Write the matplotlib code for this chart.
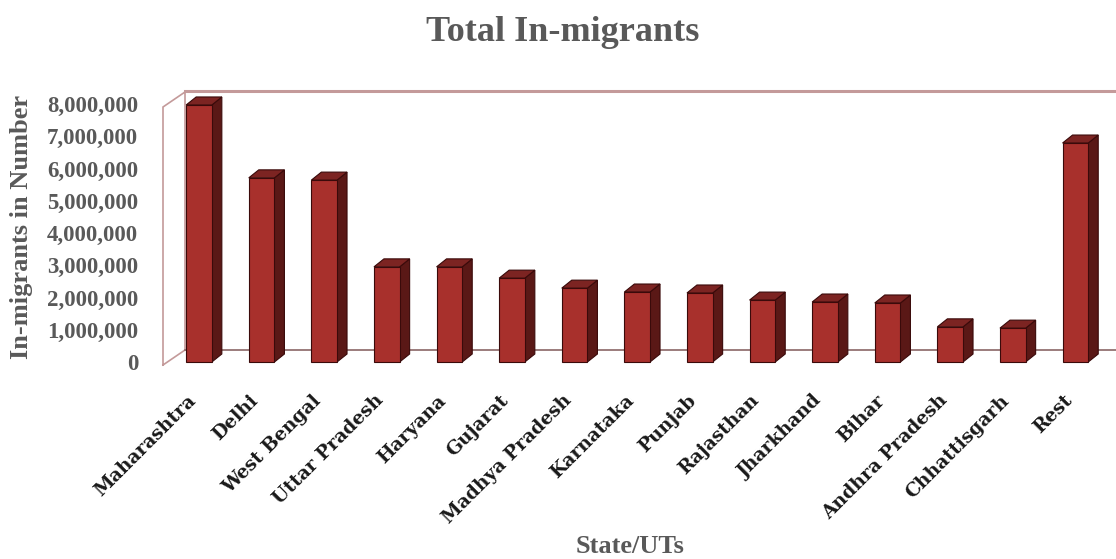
import matplotlib
matplotlib.use('Agg')
import matplotlib.pyplot as plt
from matplotlib.patches import Polygon
from matplotlib.transforms import ScaledTranslation
import numpy as np

# ---- data ----
states = ['Maharashtra', 'Delhi', 'West Bengal', 'Uttar Pradesh', 'Haryana',
          'Gujarat', 'Madhya Pradesh', 'Karnataka', 'Punjab', 'Rajasthan',
          'Jharkhand', 'Bihar', 'Andhra Pradesh', 'Chhattisgarh', 'Rest']
in_migrants = [7970000, 5710000, 5640000, 2950000, 2950000,
               2600000, 2290000, 2170000, 2140000, 1920000,
               1860000, 1830000, 1090000, 1050000, 6790000]
y_ticks = [0, 1000000, 2000000, 3000000, 4000000,
           5000000, 6000000, 7000000, 8000000]
title = 'Total In-migrants'
y_label = 'In-migrants in Number'
x_label = 'State/UTs'

# ---- styling ----
W, H = 1116, 559
fig = plt.figure(figsize=(W / 100, H / 100), dpi=100)
ax = fig.add_axes([163 / W, 1 - 370 / H, (W - 163) / W, 285 / H])

px_x = 62.6          # pixels per category
px_y = 32.25 / 1e6   # pixels per unit value
ax.set_xlim(-0.575, -0.575 + (W - 163) / px_x)
ax.set_ylim(-8 / px_y, 277 / px_y)

front_c = '#a8302c'
side_c = '#5a1816'
top_c = '#7c2422'
edge_c = '#3a0a0a'
wall_c = '#c49a9a'
floor_c = '#8a6666'

# walls (3D frame)
wdx = 22 / px_x
wdy = 15 / px_y
fx0 = -0.575
fy0 = -3 / px_y
fy1 = 255 / px_y
ax.plot([fx0, fx0, fx0 + wdx, fx0 + wdx, fx0],
        [fy0, fy1, fy1 + wdy, fy0 + wdy, fy0], color=wall_c, lw=1.2,
        solid_joinstyle='miter', clip_on=False, zorder=1)
xmax = ax.get_xlim()[1]
ax.plot([fx0 + wdx, xmax], [fy1 + wdy + 1 / px_y] * 2, color=wall_c, lw=2.2,
        clip_on=False, zorder=1)
ax.plot([fx0 + wdx, xmax], [fy0 + wdy] * 2, color=floor_c, lw=1.2,
        clip_on=False, zorder=1)

# bars with pseudo-3D faces
x = np.arange(len(states))
bw = 0.41
bdx = 10 / px_x
bdy = 8 / px_y
ax.bar(x, in_migrants, width=bw, color=front_c, edgecolor=edge_c,
       linewidth=0.8, zorder=3)
for xi, v in zip(x, in_migrants):
    r = xi + bw / 2
    l = xi - bw / 2
    side = Polygon([(r, 0), (r + bdx, bdy), (r + bdx, v + bdy), (r, v)],
                   closed=True, facecolor=side_c, edgecolor=edge_c,
                   linewidth=0.8, zorder=2)
    top = Polygon([(l, v), (l + bdx, v + bdy), (r + bdx, v + bdy), (r, v)],
                  closed=True, facecolor=top_c, edgecolor=edge_c,
                  linewidth=0.8, zorder=2)
    ax.add_patch(side)
    ax.add_patch(top)

for s in ax.spines.values():
    s.set_visible(False)

ax.set_yticks(y_ticks)
ax.set_yticklabels([f'{v:,}' for v in y_ticks], fontfamily='Liberation Serif',
                   fontweight='bold', fontsize=16.5, color='#595959')
ax.tick_params(axis='y', length=0, pad=18)

ax.set_xticks(x)
ax.set_xticklabels(states, rotation=45, ha='right', va='center',
                   rotation_mode='anchor', fontfamily='DejaVu Serif',
                   fontweight='bold', fontsize=13.5, color='#1a1a1a')
ax.tick_params(axis='x', length=0, pad=20)
off = ScaledTranslation(-6 / 100, 0, fig.dpi_scale_trans)
for lbl in ax.get_xticklabels():
    lbl.set_transform(lbl.get_transform() + off)

fig.text(563 / W, 1 - 41 / H, title, ha='center', va='baseline',
         fontfamily='Liberation Serif', fontweight='bold', fontsize=26,
         color='#595959')
fig.text(22 / W, 1 - 226.5 / H, y_label, ha='center', va='center',
         rotation=90, fontfamily='Liberation Serif', fontweight='bold',
         fontsize=19, color='#595959')
fig.text(630 / W, 1 - 553 / H, x_label, ha='center', va='baseline',
         fontfamily='Liberation Serif', fontweight='bold', fontsize=19,
         color='#595959')

fig.savefig('out.png', dpi=100)
